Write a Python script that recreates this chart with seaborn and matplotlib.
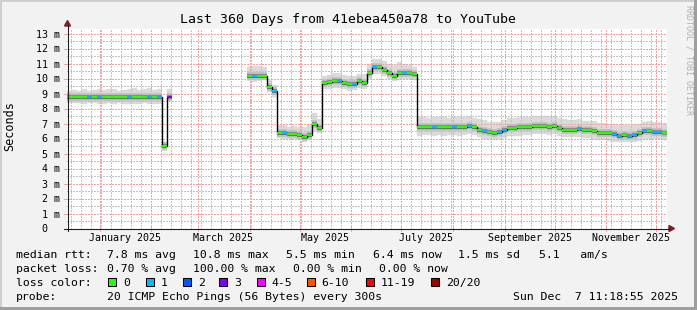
import numpy as np
import pandas as pd
import matplotlib
matplotlib.use("Agg")
import matplotlib.pyplot as plt
import seaborn as sns
from matplotlib.patches import Rectangle, Polygon
from matplotlib.lines import Line2D
from matplotlib.transforms import blended_transform_factory

# ---------------- data ----------------
start = pd.Timestamp("2024-12-12 11:18:55")
sample_day = np.arange(0, 360, 3)  # one sample every 3 days

nan = np.nan
median = [
    8.75, 8.8, 8.8, 8.75, 8.8, 8.8, 8.8, 8.75, 8.8, 8.8, 8.8, 8.8, 8.8, 8.8, 8.75, 8.8, 8.75, 8.75, 8.8, 5.5, 8.8,
    nan, nan, nan, nan, nan, nan, nan, nan, nan, nan, nan, nan, nan, nan, nan,
    10.2, 10.15, 10.2, 10.2, 9.45, 9.15, 6.4, 6.35, 6.3, 6.3, 6.25, 6.1, 6.25, 7.0, 6.7,
    9.7, 9.75, 9.85, 9.85, 9.7, 9.65, 9.65, 9.85, 9.7, 10.4, 10.75, 10.75, 10.6, 10.4, 10.2, 10.35, 10.4, 10.4, 10.3,
    6.75, 6.8, 6.8, 6.75, 6.8, 6.75, 6.8, 6.8, 6.75, 6.8, 6.85, 6.8, 6.6, 6.5, 6.45, 6.4, 6.45, 6.6, 6.7, 6.7,
    6.75, 6.8, 6.8, 6.85, 6.85, 6.85, 6.8, 6.85, 6.7, 6.6, 6.6, 6.6, 6.65, 6.55, 6.55, 6.5, 6.4, 6.4, 6.35, 6.3,
    6.2, 6.25, 6.2, 6.25, 6.35, 6.5, 6.5, 6.45, 6.45, 6.4,
]
smoke_hi = [
    9.2, 9.25, 9.2, 9.3, 9.2, 9.25, 9.3, 9.25, 9.3, 9.3, 9.2, 9.25, 9.3, 9.35, 9.25, 9.3, 9.35, 9.25, 9.3, 5.8, 9.3,
    nan, nan, nan, nan, nan, nan, nan, nan, nan, nan, nan, nan, nan, nan, nan,
    10.75, 10.85, 10.8, 10.75, 9.9, 9.6, 6.9, 6.9, 6.8, 6.85, 6.8, 6.75, 6.9, 7.7, 7.3,
    10.2, 10.25, 10.35, 10.35, 10.25, 10.2, 10.2, 10.3, 10.3, 11.0, 11.3, 11.3, 11.15, 11.0, 10.9, 11.1, 10.95, 10.9, 10.8,
    7.4, 7.45, 7.4, 7.4, 7.45, 7.4, 7.4, 7.45, 7.4, 7.45, 7.5, 7.4, 7.3, 7.2, 7.1, 7.1, 7.1, 7.25, 7.35, 7.35,
    7.4, 7.45, 7.45, 7.5, 7.5, 7.5, 7.45, 7.5, 7.4, 7.3, 7.25, 7.25, 7.3, 7.2, 7.2, 7.15, 7.05, 7.05, 7.0, 6.95,
    6.9, 6.9, 6.9, 6.95, 7.0, 7.1, 7.15, 7.1, 7.1, 7.05,
]
smoke_lo = [
    8.35, 8.35, 8.4, 8.3, 8.35, 8.35, 8.3, 8.3, 8.35, 8.3, 8.35, 8.3, 8.3, 8.3, 8.3, 8.35, 8.3, 8.3, 8.3, 5.2, 8.5,
    nan, nan, nan, nan, nan, nan, nan, nan, nan, nan, nan, nan, nan, nan, nan,
    9.85, 9.8, 9.85, 9.9, 9.1, 8.8, 6.05, 6.0, 5.95, 5.95, 5.9, 5.8, 5.9, 6.5, 6.4,
    9.3, 9.3, 9.4, 9.4, 9.3, 9.2, 9.25, 9.35, 9.3, 10.0, 10.3, 10.3, 10.2, 10.0, 9.85, 9.9, 9.95, 10.0, 9.9,
    6.2, 6.25, 6.25, 6.2, 6.25, 6.2, 6.25, 6.25, 6.2, 6.25, 6.3, 6.25, 6.1, 6.0, 5.95, 5.9, 5.95, 6.05, 6.15, 6.15,
    6.2, 6.25, 6.25, 6.3, 6.3, 6.3, 6.25, 6.3, 6.15, 6.1, 6.1, 6.1, 6.1, 6.05, 6.05, 6.0, 5.9, 5.9, 5.85, 5.8,
    5.75, 5.75, 5.75, 5.8, 5.85, 5.95, 6.0, 5.95, 5.95, 5.9,
]
# samples that showed packet loss (day, loss level)
loss_day = [12, 18, 36, 48, 54, 60, 111, 123, 129, 162, 171, 183, 201, 219, 231, 240, 249, 258, 261,
            306, 327, 330, 336, 339, 345, 351, 354]
loss_level = [1, 1, 1, 1, 1, 3, 1, 1, 1, 1, 1, 1, 1, 1, 1, 1, 1, 1, 1,
              1, 1, 1, 1, 1, 1, 1, 1]

loss_names = ["0", "1", "2", "3", "4-5", "6-10", "11-19", "20/20"]
loss_colors = ["#26ff00", "#00b8ff", "#0059ff", "#7e00ff", "#ff00ff", "#ff5500", "#ff0000", "#a10000"]

month_label_text = ["January 2025", "March 2025", "May 2025", "July 2025", "September 2025", "November 2025"]
month_label_dates = ["2025-01-01", "2025-03-01", "2025-05-01", "2025-07-01", "2025-09-01", "2025-11-01"]
ytick_values = list(range(0, 14))
ytick_labels = ["0"] + [f"{v} m" for v in range(1, 14)]

title = "Last 360 Days from 41ebea450a78 to YouTube"
legend_rows = [
    [("median rtt:", 16), ("7.8 ms avg", 107.3), ("10.8 ms max", 192.7), ("5.5 ms min", 286),
     ("6.4 ms now", 372.7), ("1.5 ms sd", 458.3), ("5.1   am/s", 538.7)],
    [("packet loss:", 16), ("0.70 % avg", 107.3), ("100.00 % max", 192.7), ("0.00 % min", 293.3),
     ("0.00 % now", 379.3)],
    [("loss color:", 16)],
    [("probe:", 16), ("20 ICMP Echo Pings (56 Bytes) every 300s", 107.3), ("Sun Dec  7 11:18:55 2025", 513.3)],
]
legend_box_x = [108.3, 145.7, 182.7, 219.3, 256.7, 306.7, 365.7, 430.7]

# ---------------- figure ----------------
W, H = 697, 310
sns.set_theme(style="white")
plt.rcParams['font.family'] = ['DejaVu Sans Mono', 'DejaVu Sans']

BACK = "#f2f2f2"
GRID = "#c2c2c2"
MGRID = "#efa3a3"
ARROW = "#801f1f"
AXIS = "#1f1f1f"

fig = plt.figure(figsize=(W / 100, H / 100), dpi=100, facecolor=BACK)


def fx(x):
    return x / W


def fy(y):
    return 1 - y / H


ax = fig.add_axes([fx(67), fy(228.5), 600 / W, 200 / H])
ax.set_facecolor("white")
ax.set_xlim(0, 360)
ax.set_ylim(0, 200 / 15)
for s in ax.spines.values():
    s.set_visible(False)

# grid
month_starts = pd.date_range("2025-01-01", "2025-12-01", freq="MS")
mpos = [(m - start) / pd.Timedelta(days=1) for m in month_starts]
minor_dates = pd.date_range("2024-12-15", "2025-12-07", freq="6D")
minor_pos = [(m - start) / pd.Timedelta(days=1) for m in minor_dates]
minor_pos = [p for p in minor_pos if 0 < p < 360]
ax.set_xticks(mpos)
ax.set_xticks(minor_pos, minor=True)
ax.set_yticks(ytick_values)
ax.set_yticks(np.arange(0.5, 13.5, 1.0), minor=True)
ax.set_xticklabels([])
ax.set_yticklabels([])
ax.tick_params(which="both", length=0)
ax.grid(which="minor", color=GRID, linestyle=(0, (1, 1)), linewidth=1.0, antialiased=False, zorder=2)
ax.grid(which="major", color=MGRID, linestyle=(0, (1, 1)), linewidth=1.0, antialiased=False, zorder=2)
ax.set_axisbelow(False)

# data
df = pd.DataFrame({"day": sample_day, "median": median, "lo": smoke_lo, "hi": smoke_hi})
df["seg"] = df["median"].isna().cumsum()
lvl = dict(zip(loss_day, loss_level))
color_for_level = {0: 0, 1: 1, 2: 2, 3: 3, 4: 4, 5: 4}
df["color"] = [loss_colors[color_for_level.get(lvl.get(d, 0), 7)] for d in df["day"]]
d = df.dropna(subset=["median"])

ax.bar(d["day"], d["hi"] - d["lo"], bottom=d["lo"], width=3, align="edge",
       color="#dadada", edgecolor="#dadada", linewidth=0.2, zorder=1)
ax.hlines(d["median"], d["day"], d["day"] + 3, colors="#c0c0c0", linewidth=5.5, zorder=3)
ax.hlines(d["median"], d["day"], d["day"] + 3, colors="#8a8a8a", linewidth=3.0, zorder=3.1)
sns.lineplot(data=d, x="day", y="median", units="seg", estimator=None, drawstyle="steps-post",
             color="black", linewidth=1.0, legend=False, ax=ax, zorder=4)
ax.hlines(d["median"], d["day"], d["day"] + 3, colors=list(d["color"]), linewidth=1.5, zorder=5)
ax.set_xlabel("")
ax.set_ylabel("")

# axis lines and arrows
fig.add_artist(Line2D([fx(67.5), fx(67.5)], [fy(231), fy(25)], color=AXIS, lw=0.8, transform=fig.transFigure))
fig.add_artist(Line2D([fx(64), fx(670)], [fy(228.5), fy(228.5)], color=AXIS, lw=0.8, transform=fig.transFigure))
fig.add_artist(Polygon([[fx(67.5), fy(20.5)], [fx(64.5), fy(26)], [fx(70.5), fy(26)]], closed=True,
                       color=ARROW, transform=fig.transFigure))
fig.add_artist(Polygon([[fx(674.5), fy(228.5)], [fx(669), fy(225.5)], [fx(669), fy(231.5)]], closed=True,
                       color=ARROW, transform=fig.transFigure))

# tick marks
ytr = blended_transform_factory(fig.transFigure, ax.transData)
for v in ytick_values:
    ax.plot([fx(64), fx(70)], [v, v], color=MGRID, lw=0.72, transform=ytr, clip_on=False, zorder=6)
xtr = blended_transform_factory(ax.transData, fig.transFigure)
for p in mpos:
    ax.plot([p, p], [fy(226), fy(231)], color=MGRID, lw=0.72, transform=xtr, clip_on=False, zorder=6)

# y tick labels
for v, lab in zip(ytick_values, ytick_labels):
    xr = 60 if v > 0 else 47
    ax.text(fx(xr), v, lab, transform=ytr, ha="right", va="center_baseline", fontsize=7.2, color="black")

# month labels
for lab, ds in zip(month_label_text, month_label_dates):
    p = (pd.Timestamp(ds) - start) / pd.Timedelta(days=1) + 15
    ax.text(p, fy(241), lab, transform=xtr, ha="center", va="baseline", fontsize=7.2, color="black")

# title and side texts
fig.text(fx(348), fy(23), title, ha="center", va="baseline", fontsize=9.5, color="black")
fig.text(fx(10), fy(126), "Seconds", ha="center", va="center", rotation=90, fontsize=8.5, color="black")
fig.text(fx(688.5), fy(5), "RRDTOOL / TOBI OETIKER", ha="center", va="top", rotation=-90,
         fontsize=6, color="#b0b0b0")

# legend rows
baselines = [258, 272, 286, 300]
for row, yb in zip(legend_rows, baselines):
    for s, x in row:
        fig.text(fx(x), fy(yb), s, ha="left", va="baseline", fontsize=8.25, color="black")
for bx, c, name in zip(legend_box_x, loss_colors, loss_names):
    fig.add_artist(Rectangle((fx(bx), fy(286.3)), 8 / W, 8 / H, facecolor=c, edgecolor="black",
                             linewidth=0.75, transform=fig.transFigure))
    fig.text(fx(bx + 15), fy(286), name, ha="left", va="baseline", fontsize=8.25, color="black")

# 3D frame
fig.add_artist(Rectangle((0, fy(2)), 1, 2 / H, facecolor="#cfcfcf", edgecolor="none", transform=fig.transFigure))
fig.add_artist(Rectangle((0, 0), 2 / W, 1, facecolor="#cfcfcf", edgecolor="none", transform=fig.transFigure))
fig.add_artist(Rectangle((0, 0), 1, 3 / H, facecolor="#9e9e9e", edgecolor="none", transform=fig.transFigure))
fig.add_artist(Rectangle((fx(694), 0), 3 / W, 1, facecolor="#9e9e9e", edgecolor="none", transform=fig.transFigure))

fig.savefig("out.png", dpi=100, facecolor=BACK)
